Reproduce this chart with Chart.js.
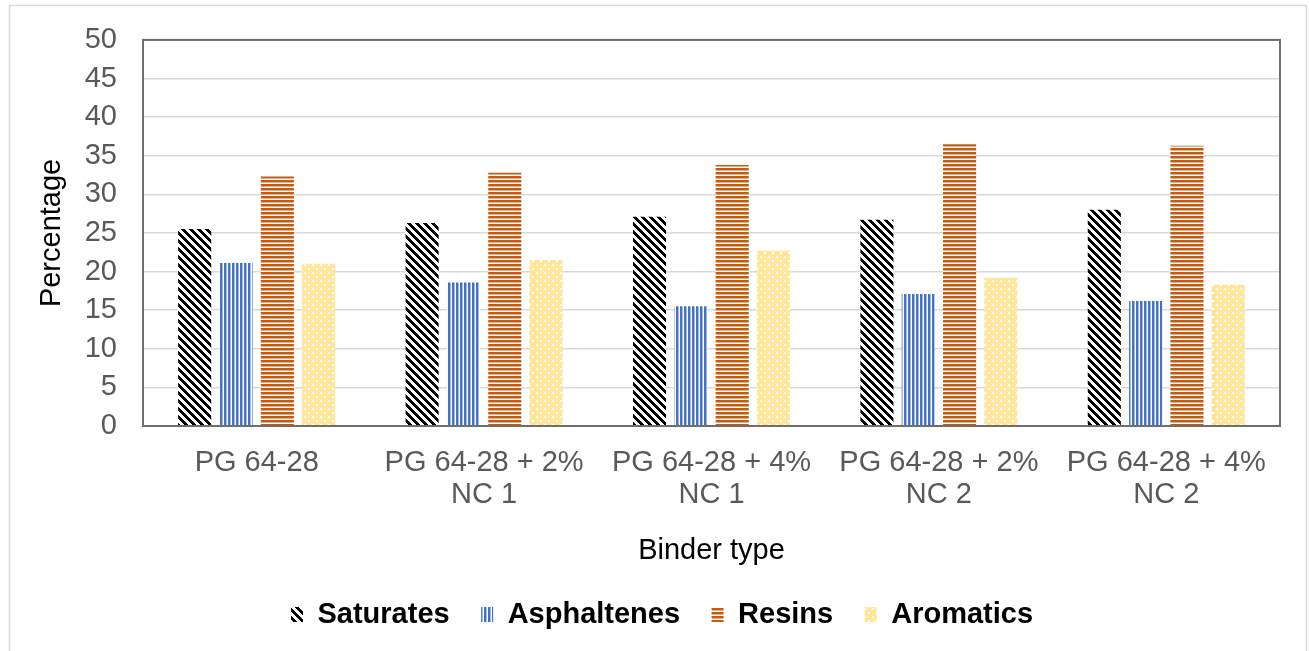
<!DOCTYPE html>
<html>
<head>
<meta charset="utf-8">
<script src="https://cdn.jsdelivr.net/npm/chart.js@4.4.0/dist/chart.umd.min.js"></script>
<style>
  html, body { margin: 0; padding: 0; background: #fff; }
  #wrap { width: 1309px; height: 651px; position: relative; }
</style>
</head>
<body>
<div id="wrap"><canvas id="myChart"></canvas></div>
<script>
const binderTypes = [
	['PG 64-28'],
	['PG 64-28 + 2%', 'NC 1'],
	['PG 64-28 + 4%', 'NC 1'],
	['PG 64-28 + 2%', 'NC 2'],
	['PG 64-28 + 4%', 'NC 2']
];
const saturates = [25.5, 26.3, 27.1, 26.7, 28.0];
const asphaltenes = [21.1, 18.6, 15.5, 17.1, 16.2];
const resins = [32.3, 32.8, 33.8, 36.5, 36.3];
const aromatics = [21.0, 21.5, 22.7, 19.2, 18.3];
const yMin = 0;
const yMax = 50;
const yStep = 5;

const FONT = "'Liberation Sans', Arial, sans-serif";
const ctx = document.getElementById('myChart').getContext('2d');

// build a repeating fill from a small tile
function tile(size, paint) {
	const c = document.createElement('canvas');
	c.width = size;
	c.height = size;
	const g = c.getContext('2d');
	paint(g, size);
	return ctx.createPattern(c, 'repeat');
}

const satFill = tile(8, function(g, n) {
	g.fillStyle = '#ffffff';
	g.fillRect(0, 0, n, n);
	g.fillStyle = '#000000';
	for (let y = 0; y < n; y++) {
		for (let x = 0; x < n; x++) {
			if (((x - y + n) % n) < 4) g.fillRect(x, y, 1, 1);
		}
	}
});

const asphFill = tile(4, function(g, n) {
	g.fillStyle = '#ffffff';
	g.fillRect(0, 0, n, n);
	g.fillStyle = '#4472c4';
	g.fillRect(0, 0, 2, n);
	g.fillStyle = '#a2b9e2';
	g.fillRect(2, 0, 1, n);
});

const resFill = tile(4, function(g, n) {
	g.fillStyle = '#ffffff';
	g.fillRect(0, 0, n, n);
	g.fillStyle = '#c55a11';
	g.fillRect(0, 0, n, 2);
	g.fillStyle = '#e2ad88';
	g.fillRect(0, 2, n, 1);
});

const aroFill = tile(8, function(g, n) {
	g.fillStyle = '#ffe699';
	g.fillRect(0, 0, n, n);
	g.fillStyle = '#ffffff';
	g.fillRect(0, 0, 2, 2);
	g.fillRect(4, 4, 2, 2);
});

const frame = {
	id: 'frame',
	beforeDraw(chart) {
		const c = chart.ctx;
		c.save();
		c.fillStyle = '#ffffff';
		c.fillRect(0, 0, chart.width, chart.height);
		c.strokeStyle = '#d9d9d9';
		c.lineWidth = 1.5;
		c.strokeRect(9.5, 5.5, 1297, 660);
		c.restore();
	},
	afterDraw(chart) {
		const a = chart.chartArea;
		const c = chart.ctx;
		c.save();
		c.strokeStyle = '#6e6e6e';
		c.lineWidth = 2;
		c.strokeRect(a.left, a.top, a.right - a.left, a.bottom - a.top);
		c.restore();
	}
};

const myChart = new Chart(ctx, {
	type: 'bar',
	data: {
		labels: binderTypes,
		datasets: [
			{ label: 'Saturates', data: saturates, backgroundColor: satFill, borderWidth: 0 },
			{ label: 'Asphaltenes', data: asphaltenes, backgroundColor: asphFill, borderWidth: 0 },
			{ label: 'Resins', data: resins, backgroundColor: resFill, borderWidth: 0 },
			{ label: 'Aromatics', data: aromatics, backgroundColor: aroFill, borderWidth: 0 }
		]
	},
	options: {
		responsive: true,
		maintainAspectRatio: false,
		animation: false,
		categoryPercentage: 0.727,
		barPercentage: 0.8,
		layout: { padding: { left: 44, right: 29, top: 30, bottom: 12 } },
		plugins: {
			tooltip: { enabled: false },
			legend: {
				position: 'bottom',
				labels: {
					font: { family: FONT, size: 29, weight: 'bold' },
					color: '#000000',
					boxWidth: 12,
					boxHeight: 15,
					padding: 31.5
				}
			}
		},
		scales: {
			x: {
				grid: { display: false, drawTicks: false },
				border: { color: '#6e6e6e', width: 2 },
				ticks: {
					color: '#595959',
					font: { family: FONT, size: 29, lineHeight: 1.1 },
					padding: 21.5,
					maxRotation: 0,
					autoSkip: false
				},
				title: {
					display: true,
					text: 'Binder type',
					color: '#000000',
					font: { family: FONT, size: 29 },
					padding: { top: 20, bottom: 0 }
				},
				afterFit(scale) { scale.height = 142.5; }
			},
			y: {
				min: yMin,
				max: yMax,
				grid: { color: '#d9d9d9', lineWidth: 1.5, drawTicks: false },
				border: { color: '#6e6e6e', width: 2 },
				ticks: {
					stepSize: yStep,
					color: '#595959',
					font: { family: FONT, size: 29, lineHeight: 0.96 },
					padding: 26
				},
				title: {
					display: true,
					text: 'Percentage',
					color: '#000000',
					font: { family: FONT, size: 29 },
					padding: { top: -9, bottom: 0 }
				},
				afterFit(scale) { scale.width = 99; }
			}
		}
	},
	plugins: [frame]
});
</script>
</body>
</html>
